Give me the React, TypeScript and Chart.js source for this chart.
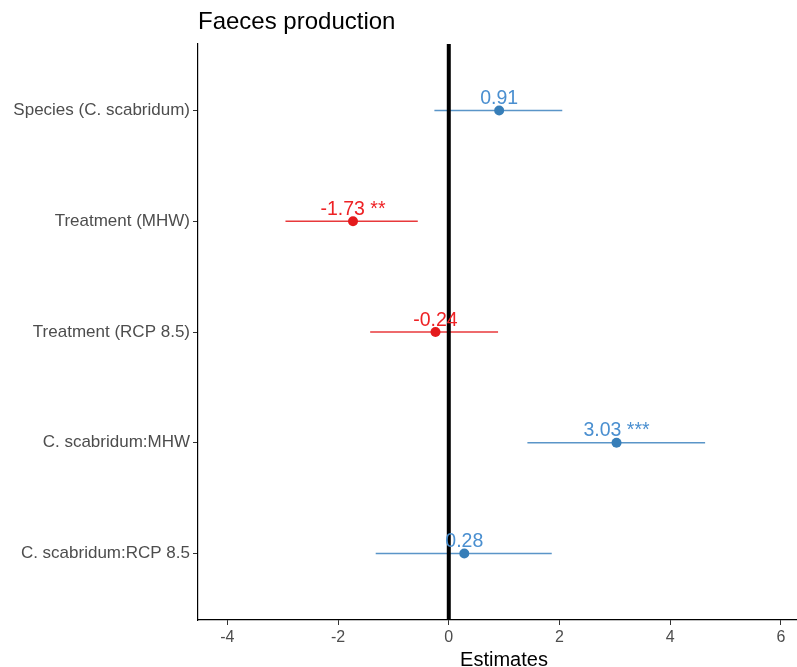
import React, { useEffect, useRef } from "react";
import { Chart, registerables } from "chart.js";

Chart.register(...registerables);

const categories = [
  "Species (C. scabridum)",
  "Treatment (MHW)",
  "Treatment (RCP 8.5)",
  "C. scabridum:MHW",
  "C. scabridum:RCP 8.5",
];
const estimates = [0.91, -1.73, -0.24, 3.03, 0.28];
const lower = [-0.26, -2.95, -1.42, 1.42, -1.32];
const upper = [2.05, -0.56, 0.89, 4.63, 1.86];
const valueLabels = ["0.91", "-1.73 **", "-0.24", "3.03 ***", "0.28"];
const xTicks = [-4, -2, 0, 2, 4, 6];

const BLUE = "#377EB8";
const RED = "#E41A1C";
const BLUE_LINE = "#5A95C8";
const RED_LINE = "#E8393B";
const BLUE_TEXT = "#4A8FD0";
const RED_TEXT = "#EE2225";
const FONT = "'Liberation Sans', Arial, sans-serif";

const isPos = (v: number) => v >= 0;

export default function App() {
  const ref = useRef<HTMLCanvasElement | null>(null);

  useEffect(() => {
    if (!ref.current) return;
    const errorSets = categories.map((c, i) => ({
      type: "line" as const,
      label: c,
      data: [
        { x: lower[i], y: i + 1 },
        { x: upper[i], y: i + 1 },
      ],
      borderColor: isPos(estimates[i]) ? BLUE_LINE : RED_LINE,
      borderWidth: 1.6,
      pointRadius: 0,
      order: 3,
    }));
    const zeroSet = {
      type: "line" as const,
      label: "zero",
      data: [
        { x: 0, y: 0.4 },
        { x: 0, y: 5.6 },
      ],
      borderColor: "#000000",
      borderWidth: 4,
      pointRadius: 0,
      order: 2,
    };
    const pointSet = {
      type: "scatter" as const,
      label: "estimates",
      data: estimates.map((v, i) => ({ x: v, y: i + 1 })),
      pointBackgroundColor: estimates.map((v) => (isPos(v) ? BLUE : RED)),
      pointBorderColor: estimates.map((v) => (isPos(v) ? BLUE : RED)),
      pointRadius: 5,
      pointBorderWidth: 0,
      order: 1,
    };

    const textPlugin = {
      id: "texts",
      afterDatasetsDraw(chart: any) {
        const ctx = chart.ctx;
        const xs = chart.scales.x;
        const ys = chart.scales.y;
        ctx.save();
        ctx.font = `19.5px ${FONT}`;
        ctx.textAlign = "center";
        ctx.textBaseline = "alphabetic";
        estimates.forEach((v, i) => {
          ctx.fillStyle = isPos(v) ? BLUE_TEXT : RED_TEXT;
          ctx.fillText(valueLabels[i], xs.getPixelForValue(v), ys.getPixelForValue(i + 1) - 6.5);
        });
        ctx.restore();
      },
      afterDraw(chart: any) {
        const ctx = chart.ctx;
        const area = chart.chartArea;
        ctx.save();
        ctx.fillStyle = "#000000";
        ctx.font = `24px ${FONT}`;
        ctx.textAlign = "left";
        ctx.textBaseline = "alphabetic";
        ctx.fillText("Faeces production", area.left, 29);
        ctx.font = `20px ${FONT}`;
        ctx.textAlign = "center";
        ctx.fillText("Estimates", 504, 666);
        ctx.restore();
      },
    };

    const chart = new Chart(ref.current, {
      type: "scatter",
      data: { datasets: [...errorSets, zeroSet, pointSet] as any },
      options: {
        animation: false,
        responsive: false,
        devicePixelRatio: 1,
        layout: { padding: { top: 44, left: 0, right: 0, bottom: 0 } },
        plugins: {
          legend: { display: false },
          tooltip: { enabled: false },
          title: { display: false },
        },
        scales: {
          x: {
            type: "linear",
            min: -4.53,
            max: 6.29,
            afterBuildTicks: (scale: any) => {
              scale.ticks = xTicks.map((v) => ({ value: v }));
            },
            afterFit: (scale: any) => {
              scale.height = 47;
            },
            grid: {
              display: true,
              drawOnChartArea: false,
              drawTicks: true,
              tickLength: 5,
              tickColor: "#333333",
              tickWidth: 1,
            },
            border: { display: true, color: "#000000", width: 1.2 },
            ticks: {
              color: "#4D4D4D",
              font: { family: FONT, size: 16 },
              padding: 3,
              maxRotation: 0,
              autoSkip: false,
            },
          },
          y: {
            type: "linear",
            reverse: true,
            min: 0.4,
            max: 5.6,
            afterBuildTicks: (scale: any) => {
              scale.ticks = categories.map((_, i) => ({ value: i + 1 }));
            },
            afterFit: (scale: any) => {
              scale.width = 198;
            },
            grid: {
              display: true,
              drawOnChartArea: false,
              drawTicks: true,
              tickLength: 5,
              tickColor: "#333333",
              tickWidth: 1,
            },
            border: { display: true, color: "#000000", width: 1.2 },
            ticks: {
              color: "#4D4D4D",
              font: { family: FONT, size: 17 },
              padding: 3,
              autoSkip: false,
              callback: (v: any) => categories[Math.round(Number(v)) - 1] ?? "",
            },
          },
        },
      },
      plugins: [textPlugin],
    });
    return () => chart.destroy();
  }, []);

  return (
    <div style={{ position: "fixed", left: 0, top: 0, width: 797, height: 667, background: "#fff", overflow: "hidden" }}>
      <canvas ref={ref} width={802} height={667} style={{ display: "block", width: 802, height: 667 }} />
    </div>
  );
}
